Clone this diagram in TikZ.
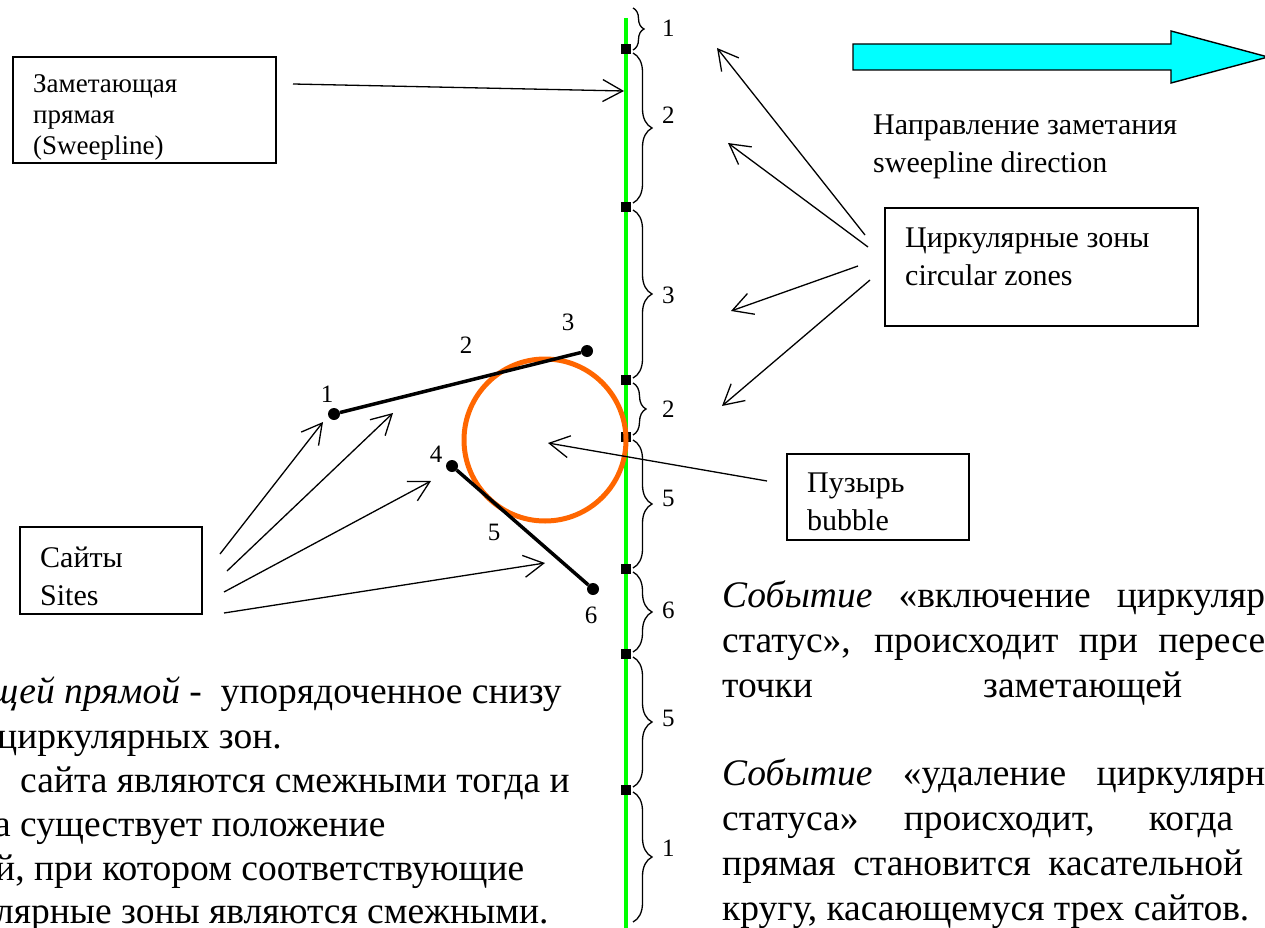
\documentclass[tikz,border=0pt]{standalone}
\usepackage{fontspec}
\setmainfont{Liberation Serif}
\usetikzlibrary{arrows.meta,decorations.pathreplacing}
\definecolor{sweepgreen}{RGB}{0,255,0}
\definecolor{bubbleorange}{RGB}{255,102,0}
\definecolor{dircyan}{RGB}{0,255,255}
\tikzset{
  lbox/.style={draw, line width=1.6pt, inner sep=0pt, anchor=north west},
  ltext/.style={inner sep=0pt, anchor=north west, align=left, font=\fontsize{30}{38}\selectfont},
  ptr/.style={line width=1.3pt, -{Straight Barb[length=20pt,width=22pt,line width=1.3pt]}},
  zbrace/.style={decorate, decoration={brace, amplitude=#1}, line width=1.3pt},
  site/.style={circle, fill, inner sep=0pt, minimum size=12pt},
  num/.style={inner sep=0pt, font=\fontsize{25}{25}\selectfont},
  body/.style={inner sep=0pt, anchor=base west, font=\fontsize{37.5}{45}\selectfont},
}
\begin{document}
\begin{tikzpicture}[x=1pt,y=-1pt]
  \useasboundingbox (0,0) rectangle (1265,928);
  \clip (0,0) rectangle (1265,928);

  % sweep line with its zones
  \draw[sweepgreen, line width=4pt] (626,18) -- (626,928);
  \foreach \y in {49,207,380,437,569,654,790}{
    \fill (621,\y-5) rectangle +(10,10);
  }
  \foreach \ya/\yb/\yl/\n/\amp [count=\i] in {8/50/28/1/11, 53/203/115/2/19, 210/378/295/3/19,
      383/435/409/2/13, 440/568/498/5/19, 572/652/610/6/19, 657/787/718/5/19, 792/922/848/1/19}{
    \draw[zbrace=\amp pt] (633,\ya) -- (633,\yb);
    \node[num, anchor=west] (zone\i) at (662,\yl) {\n};
  }

  % bubble
  \draw[bubbleorange, line width=5pt] (545,440) circle (81);

  % sites
  \node[site] (s1) at (334,414) {};
  \node[site] (s3) at (587,351) {};
  \node[site] (s4) at (452,466) {};
  \node[site] (s6) at (593,589) {};
  \draw[line width=3.5pt] (s1) -- (s3);
  \draw[line width=3.5pt] (s4) -- (s6);
  \node[num] (n1) at (327,394) {1};
  \node[num] (n2) at (466,345) {2};
  \node[num] (n3) at (568,322) {3};
  \node[num] (n4) at (436,454) {4};
  \node[num] (n5) at (494,532) {5};
  \node[num] (n6) at (591,615) {6};

  % boxes
  \node[lbox, minimum width=263pt, minimum height=106pt] (sweepbox) at (12,56) {};
  \node[ltext, font=\fontsize{27}{31}\selectfont] (sweeptxt) at (33,74) {Заметающая\\прямая\\(Sweepline)};
  \node[lbox, minimum width=182pt, minimum height=87pt] (sitebox) at (19,526) {};
  \node[ltext] (sitetxt) at (40,547) {Сайты\\Sites};
  \node[lbox, minimum width=313pt, minimum height=118pt] (zonebox) at (884,207) {};
  \node[ltext] (zonetxt) at (905,228) {Циркулярные зоны\\circular zones};
  \node[lbox, minimum width=182pt, minimum height=86pt] (bubblebox) at (786,453) {};
  \node[ltext] (bubbletxt) at (807,473) {Пузырь\\bubble};
  \node[ltext] (dirtxt) at (873,115) {Направление заметания\\sweepline direction};

  % direction arrow
  \draw[line width=1.4pt, fill=dircyan] (853,44) -- (1171,44) -- (1171,31) -- (1268,57)
    -- (1171,83) -- (1171,70) -- (853,70) -- cycle;

  % pointers
  \coordinate (sweepfrom) at (293,84);
  \coordinate (sweepto) at (624,91);
  \draw[ptr] (sweepfrom) -- (sweepto);
  \foreach \xa/\ya/\xb/\yb [count=\i] in {865/235/717/48, 868/247/728/143, 858/266/731/311, 870/280/722/406}{
    \coordinate (zf\i) at (\xa,\ya);
    \coordinate (zt\i) at (\xb,\yb);
    \draw[ptr] (zf\i) -- (zt\i);
  }
  \foreach \xa/\ya/\xb/\yb [count=\i] in {220/554/323/422, 227/571/393/413, 224/592/431/481, 224/613/545/563}{
    \coordinate (sf\i) at (\xa,\ya);
    \coordinate (st\i) at (\xb,\yb);
    \draw[ptr] (sf\i) -- (st\i);
  }
  \coordinate (bubblefrom) at (767,481);
  \coordinate (bubbleto) at (548,443);
  \draw[ptr] (bubblefrom) -- (bubbleto);

  % text on the left
  \node[body] (st1) at (-10,703) {\textit{щей прямой} -~ упорядоченное снизу};
  \node[body] (st2) at (-3,748) {циркулярных зон.};
  \node[body] (st3) at (20,792) {сайта являются смежными тогда и};
  \node[body] (st4) at (-6,836) {а существует положение};
  \node[body] (st5) at (-5,880) {й, при котором соответствующие};
  \node[body] (st6) at (-5,923) {лярные зоны являются смежными.};

  % text on the right
  \node[body] (ev1) at (722,607) {\makebox[543pt][s]{\textit{Событие} «включение циркуляр}};
  \node[body] (ev2) at (722,652) {\makebox[543pt][s]{статус», происходит при пересе}};
  \node[body] (ev3) at (722,697) {точки};
  \node[body] (ev3b) at (983,697) {заметающей};
  \node[body] (ev4) at (722,785) {\makebox[543pt][s]{\textit{Событие} «удаление циркулярн}};
  \node[body] (ev5) at (722,830) {\makebox[511pt][s]{статуса» происходит, когда}};
  \node[body] (ev6) at (722,875) {\makebox[521pt][s]{прямая становится касательной}};
  \node[body] (ev7) at (722,920) {кругу, касающемуся трех сайтов.};
\end{tikzpicture}
\end{document}
